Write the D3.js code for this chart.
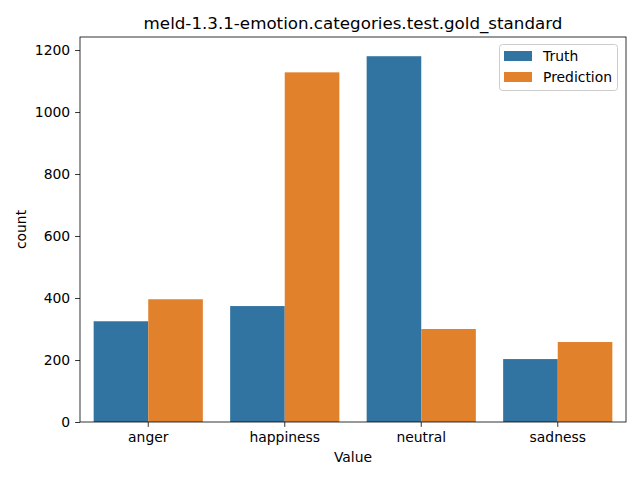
<!DOCTYPE html>
<html><head><meta charset="utf-8">
<script src="https://cdn.jsdelivr.net/npm/d3@7"></script>
<style>body{margin:0;background:#fff}svg{display:block}text{font-family:"DejaVu Sans",sans-serif;fill:#000}</style>
</head><body><svg id="c" width="640" height="480"></svg>
<script>
const categories = ["anger","happiness","neutral","sadness"];
const seriesNames = ["Truth","Prediction"];
const truthValues = [325, 374, 1180, 203];
const predictionValues = [396, 1128, 300, 258];
const yTicks = [0,200,400,600,800,1000,1200];
const colors = ["#3274a1","#e1812c"];
const titleText = "meld-1.3.1-emotion.categories.test.gold_standard";

const svg = d3.select("#c");
const L=80, R=626, T=37, B=422;
const x = d3.scaleBand().domain(categories).range([L,R]).padding(0);
const y = d3.scaleLinear().domain([0,1242]).range([B,T]);
const inner = d3.scaleBand().domain(seriesNames).range([0, x.bandwidth()*0.8]);
const seriesVals = [truthValues, predictionValues];

const g = svg.append("g");
seriesNames.forEach((s,si)=>{
  g.selectAll(null).data(categories).enter().append("rect")
    .attr("x", (c)=> x(c) + x.bandwidth()*0.1 + inner(s))
    .attr("width", inner.bandwidth())
    .attr("y", (c,i)=> y(seriesVals[si][i]))
    .attr("height", (c,i)=> B - y(seriesVals[si][i]))
    .attr("fill", colors[si]);
});

const fs = "13.9px";
const yAxis = svg.append("g").attr("transform",`translate(${L},0)`)
  .call(d3.axisLeft(y).tickValues(yTicks).tickSize(4.9).tickPadding(4.9).tickFormat(d3.format("d")));
const xAxis = svg.append("g").attr("transform",`translate(0,${B})`)
  .call(d3.axisBottom(x).tickSize(4.9).tickPadding(4.9));
[yAxis,xAxis].forEach(a=>{
  a.select(".domain").remove();
  a.selectAll("text").style("font-size",fs).style("font-family","DejaVu Sans");
  a.selectAll("line").attr("stroke","#000").attr("stroke-width",0.8);
});
// spines
svg.append("rect").attr("x",L).attr("y",T).attr("width",R-L).attr("height",B-T)
  .attr("fill","none").attr("stroke","#000").attr("stroke-width",0.8);

svg.append("text").attr("x",(L+R)/2).attr("y",T-8.5).attr("text-anchor","middle")
  .style("font-size","16.7px").text(titleText);
svg.append("text").attr("x",(L+R)/2).attr("y",462).attr("text-anchor","middle")
  .style("font-size",fs).text("Value");
svg.append("text").attr("transform",`translate(26,${(T+B)/2}) rotate(-90)`).attr("text-anchor","middle")
  .style("font-size",fs).text("count");

// legend
const lg = svg.append("g");
lg.append("rect").attr("x",499.5).attr("y",44.5).attr("width",118).attr("height",46).attr("rx",3)
  .attr("fill","#fff").attr("fill-opacity",0.8).attr("stroke","#ccc");
seriesNames.forEach((s,i)=>{
  lg.append("rect").attr("x",504).attr("y",51+i*21).attr("width",28).attr("height",10).attr("fill",colors[i]);
  lg.append("text").attr("x",543).attr("y",61+i*21).style("font-size",fs).text(s);
});
</script></body></html>
